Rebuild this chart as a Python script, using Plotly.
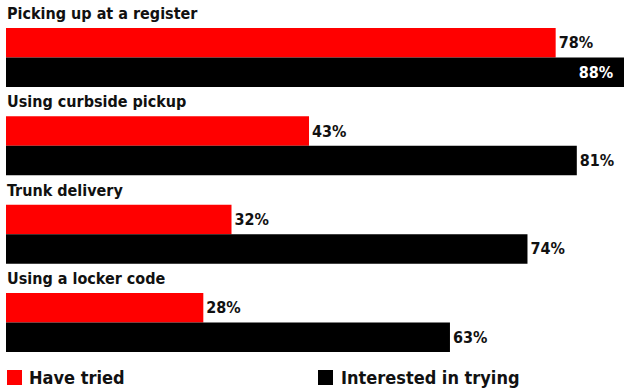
import plotly.graph_objects as go

categories = ["Picking up at a register", "Using curbside pickup", "Trunk delivery", "Using a locker code"]
have_tried = [78, 43, 32, 28]
interested = [88, 81, 74, 63]
series_names = ["Have tried", "Interested in trying"]
colors = ["#ff0000", "#000000"]

FONT = "DejaVu Sans Condensed, Liberation Sans Narrow, Arial Narrow, sans-serif"
W, H = 632, 391          # slightly wider than the 624 viewport: the longest bar runs off the edge
ML, MR, MT, MB = 6, 0, 0, 39
PW, PH = W - ML - MR, H - MT - MB
PX_PER_PCT = 7.047
XMAX = PW / PX_PER_PCT

n = len(categories)
y_red = [3 * i + 1 for i in range(n)]
y_blk = [3 * i + 2 for i in range(n)]
VIEW_XMAX = (624 - ML) / PX_PER_PCT

def positions(vals):
    return ["inside" if v > VIEW_XMAX * 0.97 else "outside" for v in vals]

def labels(vals):
    return [f"{v}%\u00a0\u00a0" if p == "inside" else f"{v}%" for v, p in zip(vals, positions(vals))]

fig = go.Figure()
for vals, ys, name, col in [(have_tried, y_red, series_names[0], colors[0]),
                            (interested, y_blk, series_names[1], colors[1])]:
    fig.add_trace(go.Bar(
        x=vals, y=ys, orientation="h", name=name,
        marker=dict(color=col, line=dict(width=0)),
        width=1.0,
        text=labels(vals),
        textposition=positions(vals),
        insidetextanchor="end",
        constraintext="none",
        textfont=dict(family=FONT, size=16, weight="bold"),
        insidetextfont=dict(family=FONT, size=16, color="white", weight="bold"),
        outsidetextfont=dict(family=FONT, size=16, color="#111111", weight="bold"),
        cliponaxis=False,
        showlegend=False,
        hoverinfo="skip",
    ))

annotations = []
for i, c in enumerate(categories):
    annotations.append(dict(
        x=0, y=3 * i, xref="x", yref="y", text=c, showarrow=False,
        xanchor="left", yanchor="middle", xshift=-1,
        font=dict(family=FONT, size=16, color="#111111", weight="bold"),
    ))

# manual legend
shapes = []
legend_px = [(7, 27), (318, 339)]
for (sx, tx), name, col in zip(legend_px, series_names, colors):
    x0 = (sx - ML) / PW
    x1 = (sx + 15 - ML) / PW
    y0 = (PH - (370 - MT)) / PH
    y1 = (PH - (385 - MT)) / PH
    shapes.append(dict(type="rect", xref="paper", yref="paper", x0=x0, x1=x1, y0=y1, y1=y0,
                       fillcolor=col, line=dict(width=0)))
    annotations.append(dict(
        x=(tx - ML) / PW, y=(PH - (377.5 - MT)) / PH, xref="paper", yref="paper",
        text=name, showarrow=False, xanchor="left", yanchor="middle",
        font=dict(family=FONT, size=18, color="#111111", weight="bold"),
    ))

fig.update_layout(
    width=W, height=H,
    margin=dict(l=ML, r=MR, t=MT, b=MB, pad=0),
    paper_bgcolor="white", plot_bgcolor="white",
    barmode="overlay",
    xaxis=dict(range=[0, XMAX], visible=False, fixedrange=True),
    yaxis=dict(range=[3 * n - 0.5, -0.451], visible=False, fixedrange=True),
    annotations=annotations,
    shapes=shapes,
    showlegend=False,
    uniformtext=dict(mode=False),
)

fig.write_html("out.html", config={"displayModeBar": False},
               post_script="document.body.style.margin='0';document.body.style.overflow='hidden';")
